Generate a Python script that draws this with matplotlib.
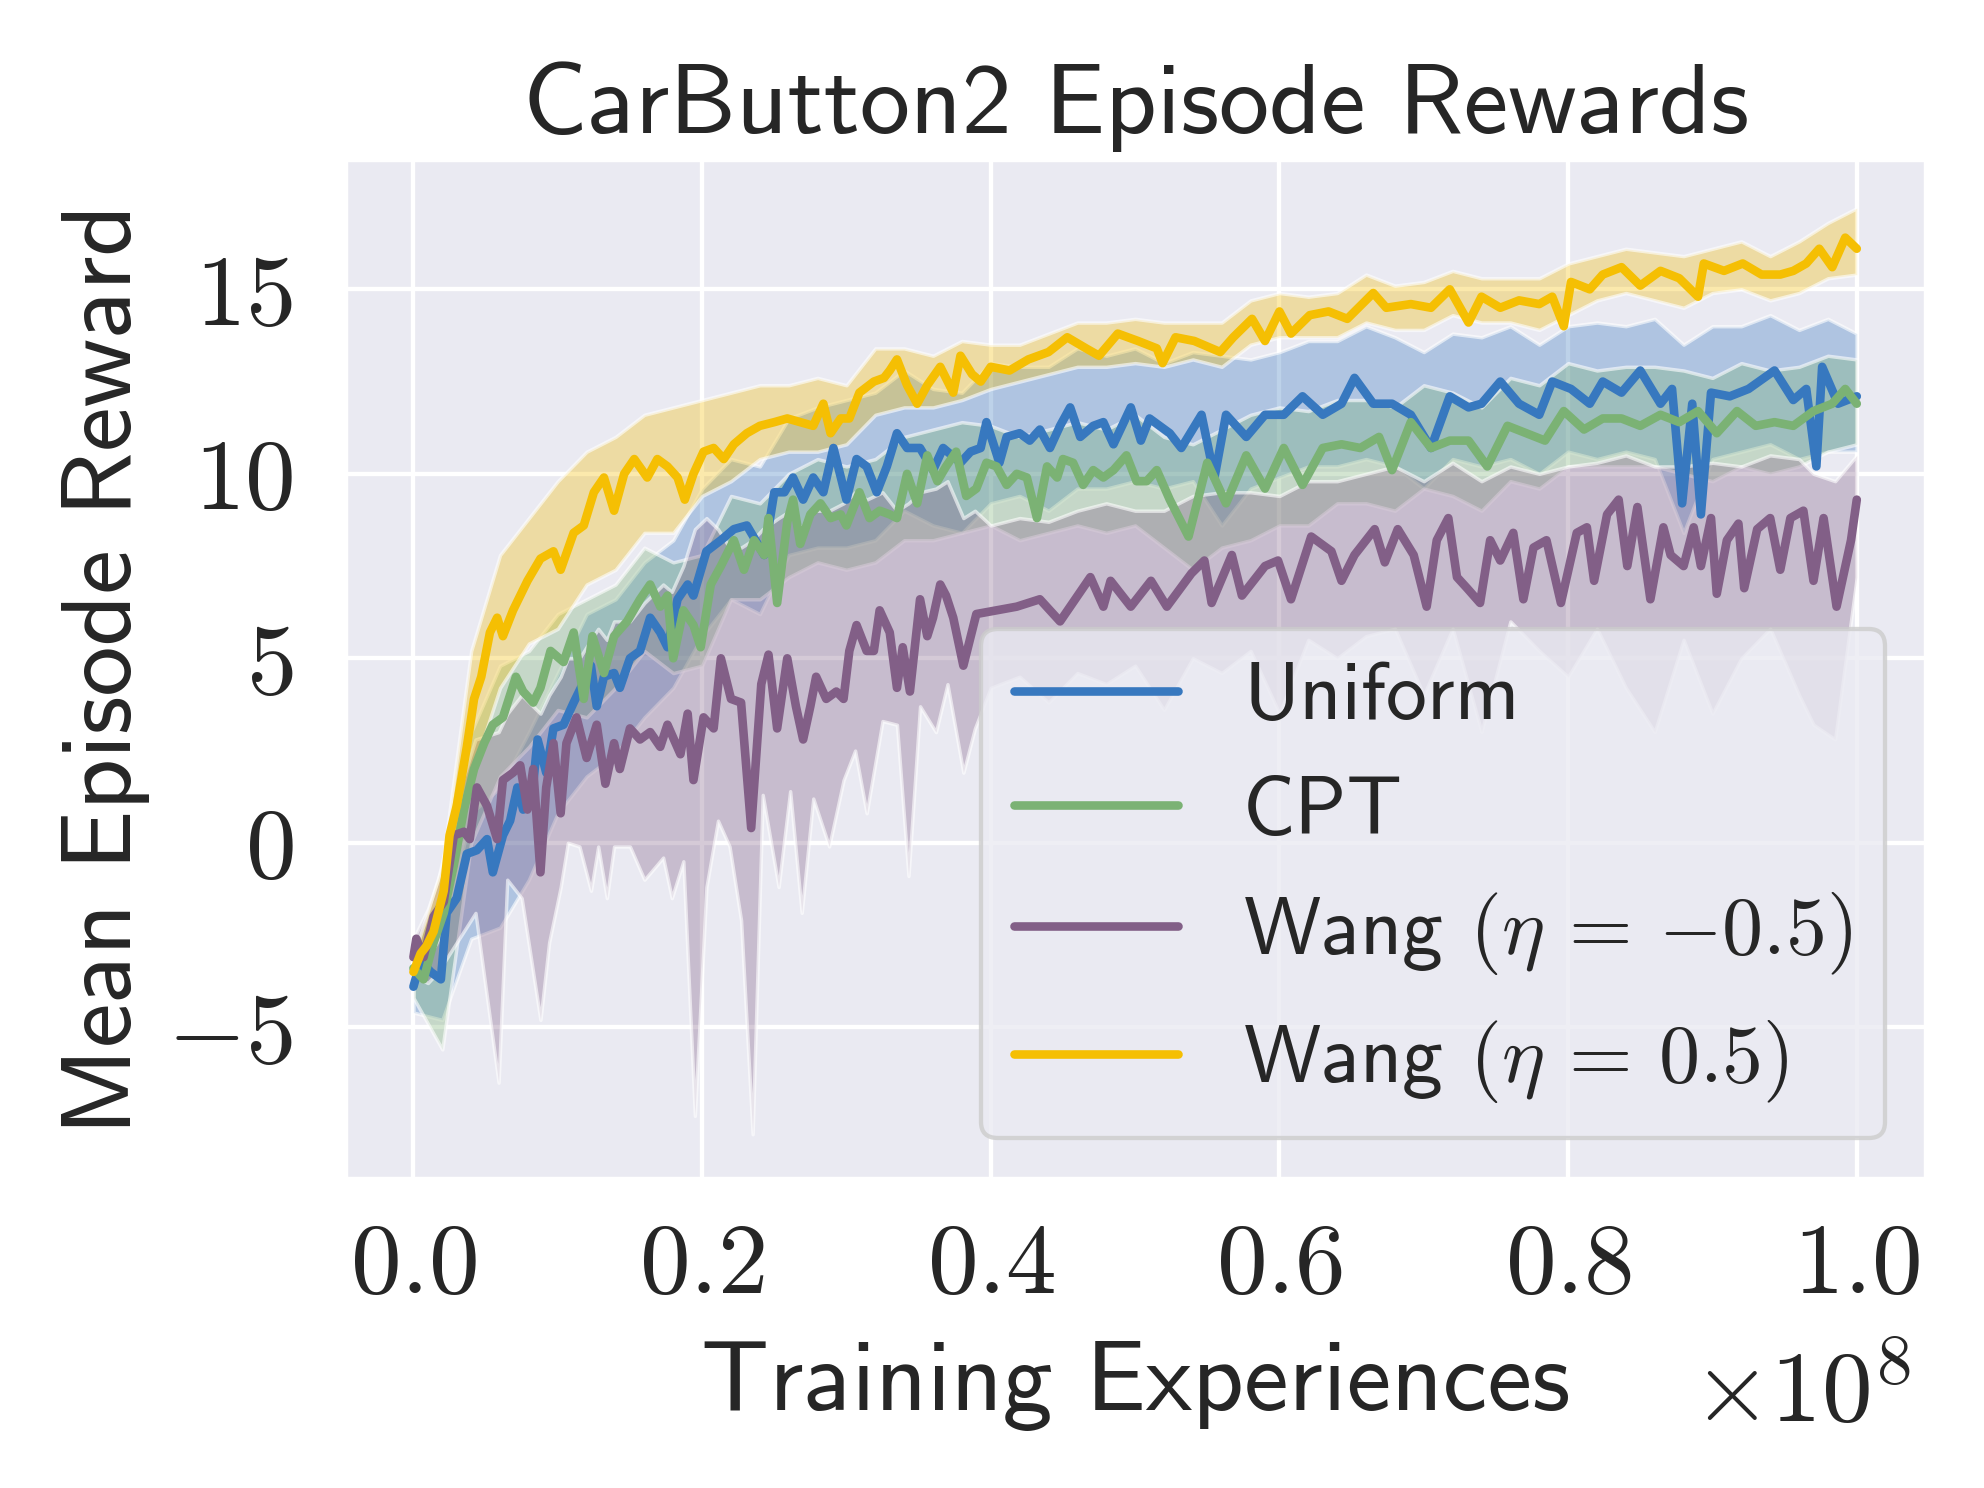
import matplotlib
matplotlib.use("Agg")
import matplotlib.pyplot as plt
import seaborn as sns
from matplotlib.colors import to_rgba
from matplotlib.ticker import FuncFormatter, FixedLocator

sns.set_theme(style="darkgrid")
plt.rcParams['font.family'] = ['cmss10', 'DejaVu Sans']
plt.rcParams['mathtext.fontset'] = 'cm'
plt.rcParams['axes.unicode_minus'] = False

# ---------------- data (x in units of 1e8 training experiences) ----------------
labels = ["Uniform", "CPT", r"Wang $(\eta\,=\,{-0.5})$", r"Wang $(\eta\,=\,0.5)$"]
colors = ["#3778bf", "#7bb274", "#825f87", "#f5bf03"]

uniform_x = [0.000, 0.005, 0.012, 0.019, 0.023, 0.030, 0.037, 0.044, 0.051, 0.055, 0.062, 0.067, 0.072, 0.076,
             0.083, 0.086, 0.092, 0.097, 0.104, 0.111, 0.116, 0.123, 0.127, 0.132, 0.139, 0.143, 0.150, 0.157,
             0.164, 0.171, 0.176, 0.183, 0.190, 0.194, 0.203, 0.213, 0.222, 0.231, 0.243, 0.250, 0.257, 0.263,
             0.270, 0.277, 0.284, 0.291, 0.300, 0.307, 0.314, 0.321, 0.328, 0.335, 0.342, 0.351, 0.360, 0.367,
             0.379, 0.386, 0.393, 0.397, 0.406, 0.411, 0.420, 0.427, 0.434, 0.441, 0.448, 0.455, 0.462, 0.471,
             0.478, 0.485, 0.497, 0.504, 0.510, 0.524, 0.532, 0.546, 0.555, 0.563, 0.577, 0.590, 0.603, 0.616,
             0.630, 0.643, 0.652, 0.665, 0.678, 0.691, 0.705, 0.718, 0.731, 0.740, 0.753, 0.766, 0.780, 0.789,
             0.802, 0.815, 0.824, 0.837, 0.850, 0.864, 0.872, 0.879, 0.886, 0.892, 0.899, 0.912, 0.925, 0.943,
             0.956, 0.965, 0.972, 0.976, 0.987, 1.000]
uniform_y = [-3.9, -3.2, -3.5, -3.7, -1.9, -1.5, -0.3, -0.2, 0.1, -0.8, 0.2, 0.6, 1.5, 0.9,
             1.6, 2.8, 1.9, 3.1, 3.2, 3.8, 4.2, 4.8, 3.7, 4.5, 4.6, 4.2, 5.0, 5.2,
             6.1, 5.7, 5.3, 6.6, 7.0, 6.7, 7.9, 8.2, 8.5, 8.6, 7.8, 9.5, 9.5, 9.9,
             9.3, 9.9, 9.5, 10.7, 9.3, 10.4, 10.2, 9.5, 10.2, 11.1, 10.7, 10.7, 10.1, 10.7,
             10.3, 10.6, 10.7, 11.4, 10.3, 11.0, 11.1, 10.9, 11.2, 10.7, 11.3, 11.8, 11.0, 11.3,
             11.4, 10.8, 11.8, 10.9, 11.5, 11.1, 10.7, 11.6, 9.9, 11.6, 11.0, 11.6, 11.6, 12.1,
             11.6, 11.9, 12.6, 11.9, 11.9, 11.6, 10.7, 12.1, 11.8, 11.9, 12.5, 11.9, 11.6, 12.5,
             12.3, 11.9, 12.5, 12.2, 12.8, 11.9, 12.3, 9.2, 11.9, 8.9, 12.2, 12.1, 12.3, 12.8,
             12.0, 12.3, 10.2, 12.9, 11.9, 12.1]

cpt_x = [0.000, 0.007, 0.014, 0.021, 0.028, 0.035, 0.042, 0.049, 0.055, 0.062, 0.071, 0.076, 0.083, 0.088,
         0.095, 0.104, 0.111, 0.118, 0.124, 0.132, 0.139, 0.148, 0.157, 0.164, 0.171, 0.176, 0.180, 0.187,
         0.194, 0.199, 0.206, 0.213, 0.222, 0.229, 0.236, 0.243, 0.246, 0.252, 0.259, 0.263, 0.268, 0.275,
         0.282, 0.289, 0.296, 0.300, 0.309, 0.316, 0.323, 0.330, 0.335, 0.342, 0.349, 0.356, 0.363, 0.369,
         0.376, 0.383, 0.390, 0.397, 0.404, 0.411, 0.418, 0.425, 0.432, 0.439, 0.446, 0.450, 0.457, 0.464,
         0.471, 0.478, 0.485, 0.494, 0.501, 0.508, 0.515, 0.524, 0.537, 0.550, 0.563, 0.577, 0.590, 0.603,
         0.616, 0.630, 0.643, 0.656, 0.669, 0.678, 0.691, 0.705, 0.718, 0.731, 0.744, 0.758, 0.771, 0.784,
         0.797, 0.811, 0.824, 0.837, 0.850, 0.864, 0.877, 0.890, 0.903, 0.917, 0.930, 0.943, 0.956, 0.970,
         0.983, 0.992, 1.000]
cpt_y = [-3.4, -3.7, -2.7, -1.9, -0.6, 0.9, 2.0, 2.7, 3.2, 3.4, 4.5, 4.1, 3.8, 4.2,
         5.2, 4.9, 5.7, 3.9, 5.6, 4.6, 5.6, 6.0, 6.6, 7.0, 6.4, 6.7, 5.0, 6.3,
         5.9, 5.3, 7.0, 7.5, 8.2, 7.4, 8.2, 7.8, 8.8, 6.5, 8.7, 9.3, 8.1, 8.9,
         9.2, 8.8, 8.9, 8.6, 9.5, 8.8, 9.0, 8.9, 8.8, 10.0, 9.2, 10.5, 9.8, 10.2,
         10.6, 9.4, 9.6, 10.3, 10.2, 9.7, 10.0, 9.9, 8.8, 10.2, 9.9, 10.4, 10.3, 9.7,
         10.1, 9.9, 10.1, 10.5, 9.8, 9.8, 10.1, 9.3, 8.3, 10.3, 9.2, 10.5, 9.6, 10.7,
         9.7, 10.7, 10.8, 10.7, 11.0, 10.1, 11.4, 10.7, 10.9, 10.9, 10.2, 11.3, 11.1, 10.9,
         11.7, 11.2, 11.5, 11.5, 11.3, 11.6, 11.4, 11.7, 11.1, 11.7, 11.3, 11.4, 11.3, 11.7,
         11.9, 12.3, 11.9]

wneg_x = [0.000, 0.002, 0.007, 0.014, 0.021, 0.028, 0.035, 0.039, 0.044, 0.051, 0.058, 0.062, 0.069, 0.074,
          0.079, 0.083, 0.088, 0.092, 0.097, 0.102, 0.106, 0.113, 0.120, 0.127, 0.133, 0.139, 0.143, 0.150,
          0.157, 0.164, 0.171, 0.176, 0.185, 0.190, 0.194, 0.201, 0.208, 0.213, 0.220, 0.227, 0.234, 0.241,
          0.246, 0.252, 0.259, 0.265, 0.270, 0.275, 0.279, 0.286, 0.293, 0.298, 0.302, 0.307, 0.314, 0.319,
          0.323, 0.330, 0.335, 0.339, 0.344, 0.351, 0.356, 0.360, 0.365, 0.369, 0.374, 0.381, 0.390, 0.404,
          0.418, 0.434, 0.448, 0.469, 0.478, 0.483, 0.497, 0.511, 0.522, 0.539, 0.548, 0.553, 0.567, 0.574,
          0.590, 0.599, 0.608, 0.622, 0.636, 0.643, 0.652, 0.666, 0.673, 0.682, 0.693, 0.702, 0.709, 0.717,
          0.723, 0.730, 0.739, 0.746, 0.753, 0.762, 0.769, 0.776, 0.785, 0.795, 0.806, 0.813, 0.818, 0.827,
          0.835, 0.841, 0.848, 0.857, 0.866, 0.871, 0.880, 0.887, 0.892, 0.899, 0.903, 0.910, 0.918, 0.922,
          0.931, 0.940, 0.947, 0.954, 0.963, 0.970, 0.977, 0.986, 0.996, 1.000]
wneg_y = [-3.1, -2.6, -3.1, -2.0, -1.6, 0.2, 0.3, 0.1, 1.5, 1.0, 0.1, 1.7, 1.9, 2.1,
          0.9, 2.0, -0.8, 1.5, 2.7, 0.8, 2.7, 3.4, 2.3, 3.2, 1.6, 2.7, 2.0, 3.1,
          2.8, 3.0, 2.6, 3.2, 2.4, 3.5, 1.7, 3.4, 3.1, 5.0, 3.9, 3.8, 0.4, 4.3,
          5.1, 3.1, 5.0, 3.7, 2.8, 3.7, 4.5, 3.9, 4.1, 3.9, 5.2, 5.9, 5.2, 5.2,
          6.3, 5.7, 4.2, 5.3, 4.1, 6.6, 5.6, 6.1, 7.0, 6.7, 6.1, 4.8, 6.2, 6.3,
          6.4, 6.6, 6.0, 7.2, 6.4, 7.1, 6.4, 7.1, 6.4, 7.3, 7.65, 6.5, 7.8, 6.7,
          7.5, 7.65, 6.6, 8.3, 7.9, 7.1, 7.8, 8.5, 7.6, 8.5, 7.8, 6.4, 8.2, 8.8,
          7.2, 6.9, 6.5, 8.2, 7.65, 8.4, 6.6, 8.0, 8.2, 6.5, 8.4, 8.55, 7.1, 8.9,
          9.3, 7.5, 9.1, 6.6, 8.55, 7.8, 7.5, 8.55, 7.5, 8.8, 6.75, 8.2, 8.65, 6.9,
          8.5, 8.8, 7.4, 8.8, 9.0, 7.1, 8.8, 6.4, 8.2, 9.3]

wpos_x = [0.000, 0.005, 0.009, 0.014, 0.021, 0.025, 0.030, 0.037, 0.042, 0.047, 0.053, 0.058, 0.062, 0.069,
          0.079, 0.088, 0.097, 0.102, 0.111, 0.118, 0.125, 0.132, 0.139, 0.146, 0.153, 0.162, 0.169, 0.176,
          0.183, 0.188, 0.194, 0.201, 0.208, 0.215, 0.222, 0.231, 0.240, 0.250, 0.259, 0.268, 0.277, 0.284,
          0.289, 0.296, 0.302, 0.309, 0.319, 0.326, 0.330, 0.335, 0.342, 0.349, 0.356, 0.365, 0.374, 0.379,
          0.387, 0.393, 0.400, 0.413, 0.426, 0.440, 0.453, 0.466, 0.475, 0.488, 0.502, 0.515, 0.519, 0.528,
          0.541, 0.559, 0.568, 0.581, 0.590, 0.600, 0.608, 0.621, 0.634, 0.647, 0.665, 0.674, 0.691, 0.705,
          0.718, 0.731, 0.740, 0.753, 0.766, 0.780, 0.789, 0.797, 0.802, 0.815, 0.824, 0.837, 0.850, 0.864,
          0.877, 0.890, 0.894, 0.908, 0.921, 0.934, 0.947, 0.956, 0.965, 0.974, 0.983, 0.992, 1.000]
wpos_y = [-3.5, -3.0, -2.8, -2.4, -1.3, 0.2, 1.0, 2.6, 3.9, 4.5, 5.7, 6.1, 5.6, 6.3,
          7.1, 7.7, 7.9, 7.4, 8.4, 8.6, 9.5, 9.9, 9.0, 10.0, 10.4, 9.9, 10.4, 10.2,
          9.9, 9.3, 10.0, 10.6, 10.7, 10.4, 10.8, 11.1, 11.3, 11.4, 11.5, 11.4, 11.3, 11.9,
          11.1, 11.5, 11.5, 12.2, 12.5, 12.6, 12.8, 13.1, 12.4, 11.9, 12.4, 12.9, 12.2, 13.2,
          12.7, 12.5, 12.9, 12.8, 13.1, 13.3, 13.7, 13.4, 13.2, 13.8, 13.6, 13.4, 13.0, 13.7,
          13.6, 13.3, 13.7, 14.2, 13.6, 14.4, 13.8, 14.3, 14.4, 14.2, 14.9, 14.5, 14.6, 14.5,
          15.0, 14.1, 14.8, 14.5, 14.7, 14.6, 14.8, 14.0, 15.2, 15.0, 15.4, 15.6, 15.1, 15.5,
          15.3, 14.8, 15.7, 15.5, 15.7, 15.4, 15.4, 15.5, 15.7, 16.1, 15.6, 16.4, 16.1]

# shaded bands (lower / upper edge)
band_x = [0.00, 0.02, 0.04, 0.06, 0.08, 0.10, 0.12, 0.14, 0.16, 0.18, 0.20, 0.22, 0.24, 0.26, 0.28, 0.30, 0.32,
          0.34, 0.36, 0.38, 0.40, 0.42, 0.44, 0.46, 0.48, 0.50, 0.52, 0.54, 0.56, 0.58, 0.60, 0.62, 0.64, 0.66,
          0.68, 0.70, 0.72, 0.74, 0.76, 0.78, 0.80, 0.82, 0.84, 0.86, 0.88, 0.90, 0.92, 0.94, 0.96, 0.98, 1.00]
uniform_lo = [-4.6, -4.8, -2.6, -2.3, -1.0, 0.8, 1.8, 2.4, 3.4, 4.2, 5.6, 6.6, 6.2, 7.8, 8.0, 8.0, 8.2,
              9.0, 8.6, 8.4, 9.2, 9.4, 9.0, 9.6, 9.6, 9.8, 9.6, 9.8, 8.6, 9.6, 9.9, 10.2, 10.2, 10.4,
              10.2, 9.6, 10.4, 10.2, 10.4, 10.0, 10.6, 10.4, 10.6, 10.4, 8.4, 10.4, 10.6, 10.8, 10.4, 10.6, 10.6]
uniform_hi = [-3.3, -2.6, 0.8, 1.5, 3.0, 4.6, 6.2, 6.6, 7.6, 8.2, 9.6, 10.4, 10.2, 11.5, 11.8, 12.0, 12.2,
              12.8, 12.3, 12.2, 13.0, 12.9, 12.9, 13.4, 13.2, 13.4, 13.0, 13.3, 13.2, 13.1, 13.3, 13.6, 13.6, 14.0,
              13.7, 13.3, 13.8, 13.7, 14.0, 13.5, 14.0, 14.1, 14.0, 14.2, 13.5, 14.0, 14.0, 14.3, 13.9, 14.2, 13.8]
cpt_lo = [-4.2, -5.6, 0.0, 1.8, 2.6, 3.6, 3.4, 4.2, 5.2, 4.6, 4.8, 6.6, 6.6, 7.2, 7.6, 7.4, 7.6,
          8.2, 8.2, 8.4, 8.6, 8.2, 8.4, 8.6, 8.4, 8.6, 8.0, 7.4, 8.0, 8.2, 8.6, 8.6, 9.2, 9.2,
          9.0, 9.6, 9.4, 9.0, 9.8, 9.6, 10.2, 10.2, 10.2, 10.2, 10.0, 9.8, 10.2, 10.0, 10.2, 10.6, 10.8]
cpt_hi = [-2.8, -1.2, 3.0, 4.8, 5.2, 6.2, 6.6, 7.0, 8.0, 7.6, 7.8, 9.4, 9.2, 10.0, 10.4, 10.2, 10.4,
          11.0, 11.2, 11.4, 11.3, 11.0, 11.2, 11.4, 11.2, 11.6, 11.0, 10.8, 11.2, 11.6, 11.8, 11.7, 12.0, 12.0,
          11.8, 12.4, 12.2, 11.8, 12.6, 12.4, 13.0, 12.8, 12.9, 12.9, 12.8, 12.6, 13.0, 12.8, 12.9, 13.2, 13.1]
wpos_lo = [-3.9, -2.4, 1.8, 4.2, 5.4, 5.8, 7.0, 7.4, 8.4, 8.4, 9.4, 9.8, 10.4, 10.6, 10.6, 10.8, 11.6,
           11.8, 11.8, 12.0, 12.3, 12.5, 12.7, 12.9, 12.9, 13.0, 12.9, 13.1, 12.9, 13.5, 13.7, 13.7, 13.7, 14.1,
           13.9, 13.9, 14.3, 14.1, 14.1, 13.9, 14.3, 14.7, 14.9, 14.7, 14.5, 14.9, 15.0, 14.7, 14.9, 15.3, 15.4]
wpos_hi = [-3.1, -0.6, 5.2, 7.8, 8.8, 9.8, 10.6, 11.0, 11.6, 11.8, 12.0, 12.2, 12.4, 12.4, 12.6, 12.4, 13.4,
           13.4, 13.2, 13.6, 13.5, 13.5, 13.8, 14.1, 14.1, 14.2, 14.1, 14.1, 14.1, 14.7, 14.9, 14.8, 14.9, 15.4,
           15.1, 15.2, 15.5, 15.3, 15.3, 15.3, 15.7, 15.9, 16.1, 16.0, 15.9, 16.1, 16.3, 15.9, 16.3, 16.8, 17.2]

wneg_band_x = [0.000, 0.010, 0.017, 0.030, 0.043, 0.059, 0.065, 0.075, 0.088, 0.094, 0.102, 0.107, 0.115,
               0.123, 0.128, 0.134, 0.139, 0.150, 0.160, 0.173, 0.179, 0.187, 0.195, 0.203, 0.211, 0.219,
               0.227, 0.235, 0.242, 0.253, 0.261, 0.269, 0.277, 0.288, 0.298, 0.306, 0.314, 0.325, 0.335,
               0.343, 0.351, 0.362, 0.370, 0.381, 0.389, 0.400, 0.420, 0.440, 0.460, 0.480, 0.500, 0.520,
               0.540, 0.560, 0.580, 0.600, 0.620, 0.640, 0.660, 0.680, 0.700, 0.720, 0.740, 0.760, 0.780,
               0.800, 0.820, 0.840, 0.860, 0.880, 0.900, 0.920, 0.940, 0.960, 0.970, 0.985, 1.000]
wneg_lo = [-3.6, -3.8, -3.5, -2.7, -1.9, -6.5, -1.0, -1.5, -4.8, -2.7, -1.2, 0.0, -0.1,
           -1.3, -0.1, -1.5, -0.1, -0.1, -1.0, -0.4, -1.5, -0.5, -7.4, -1.2, 0.6, -0.1,
           -2.1, -7.9, 1.3, -1.2, 1.4, -1.9, 1.2, -0.1, 1.7, 2.5, 0.8, 3.3, 3.2,
           -0.9, 3.7, 3.0, 4.3, 1.9, 3.1, 4.2, 4.5, 3.8, 4.6, 4.3, 4.8, 3.6,
           5.0, 4.6, 5.2, 3.5, 5.5, 5.0, 5.6, 5.8, 4.0, 5.8, 3.0, 6.0, 5.2,
           4.5, 5.8, 4.2, 3.0, 5.5, 3.5, 5.0, 5.8, 4.0, 3.2, 2.8, 7.2]
wneg_hi = [-2.6, -1.8, -1.0, 1.2, 2.8, 3.0, 3.5, 4.0, 3.5, 4.0, 4.5, 5.0, 5.0,
           5.5, 5.8, 5.5, 6.0, 6.0, 6.5, 7.0, 6.8, 7.5, 8.5, 8.8, 8.5, 8.0,
           8.0, 8.2, 8.5, 8.8, 9.0, 8.5, 9.0, 9.0, 9.2, 9.5, 9.3, 9.5, 9.0,
           9.2, 9.5, 9.6, 9.8, 8.8, 9.0, 8.6, 8.8, 8.7, 9.0, 9.2, 9.0, 9.0,
           9.4, 9.5, 9.5, 9.4, 9.8, 9.8, 10.0, 10.2, 9.8, 10.3, 9.8, 10.2, 10.0,
           10.2, 10.3, 10.5, 10.2, 10.2, 10.3, 10.2, 10.5, 10.4, 10.0, 9.8, 10.5]

xticks = [0.0, 0.2, 0.4, 0.6, 0.8, 1.0]
yticks = [-5, 0, 5, 10, 15]

series = [
    (uniform_x, uniform_y, band_x, uniform_lo, uniform_hi),
    (cpt_x, cpt_y, band_x, cpt_lo, cpt_hi),
    (wneg_x, wneg_y, wneg_band_x, wneg_lo, wneg_hi),
    (wpos_x, wpos_y, band_x, wpos_lo, wpos_hi),
]

# ---------------- figure ----------------
fig = plt.figure(figsize=(6.4, 4.8), dpi=310)
ax = fig.add_axes([0.1739, 0.2077, 0.9708 - 0.1739, 0.8931 - 0.2077])

for (mx, my, bx, lo, hi), c, lab in zip(series, colors, labels):
    ax.fill_between(bx, lo, hi, facecolor=to_rgba(c, 0.33), edgecolor=(1, 1, 1, 0.6),
                    linewidth=0.8)
    ax.plot(mx, my, color=c, lw=2.0, label=lab)

ax.set_xlim(-0.0474, 1.048)
ax.set_ylim(-9.11, 18.53)
ax.xaxis.set_major_locator(FixedLocator(xticks))
ax.yaxis.set_major_locator(FixedLocator(yticks))
ax.xaxis.set_major_formatter(FuncFormatter(lambda v, p: r"$%.1f$" % v))
ax.yaxis.set_major_formatter(FuncFormatter(lambda v, p: r"$%d$" % int(round(v))))
ax.tick_params(axis='both', labelsize=23.5, colors='#262626')
ax.tick_params(axis='x', pad=4)
ax.tick_params(axis='y', pad=6)

ax.set_title("CarButton2 Episode Rewards", fontsize=23.3, color='#262626')
ax.set_xlabel("Training Experiences", fontsize=23.3, color='#262626', labelpad=6.5)
ax.set_ylabel("Mean Episode Reward", fontsize=23.3, color='#262626')
ax.text(0.99, -0.168, r"$\times10^{8}$", transform=ax.transAxes, ha='right', va='top',
        fontsize=23.5, color='#262626')

leg = ax.legend(loc='lower right', fontsize=19.0, framealpha=0.8)
for t in leg.get_texts():
    t.set_color('#262626')

fig.savefig("out.png", dpi=310)
